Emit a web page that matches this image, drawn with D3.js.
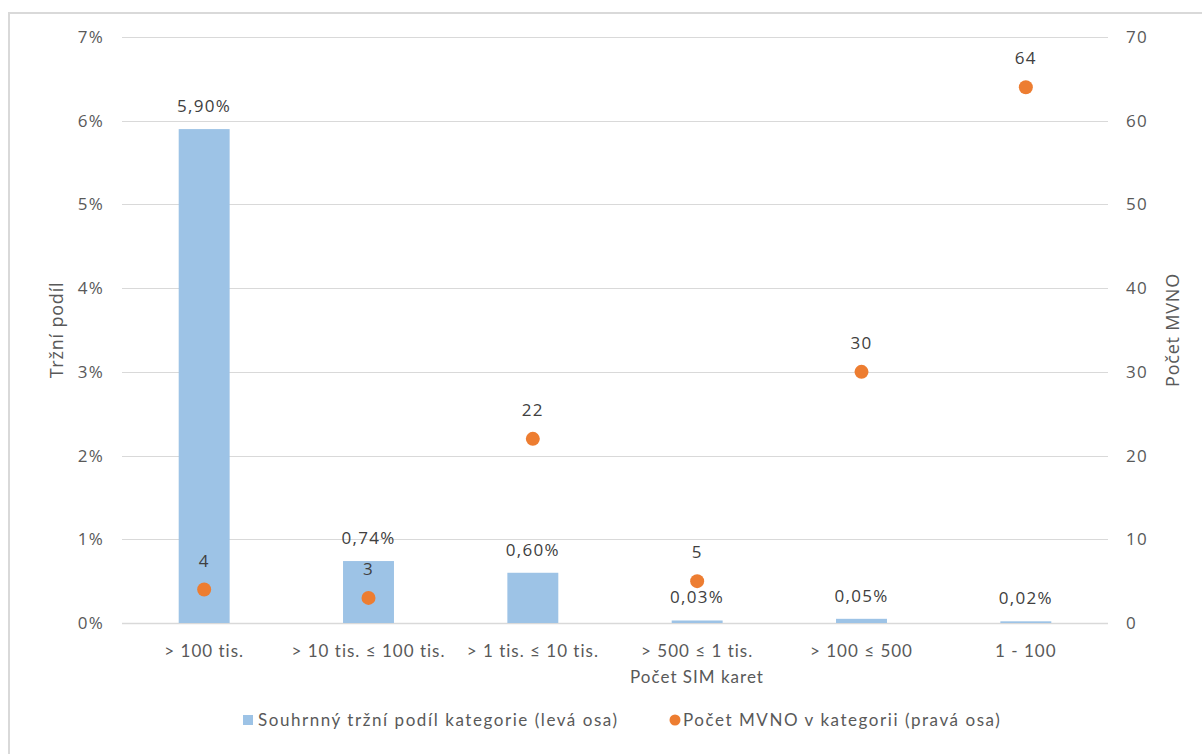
<!DOCTYPE html>
<html>
<head>
<meta charset="utf-8">
<script src="https://cdn.jsdelivr.net/npm/d3@7"></script>
<style>
  html, body { margin: 0; padding: 0; background: #fff; }
  svg { display: block; }
  .tick-lbl { font-family: "Open Sans", sans-serif; font-size: 17px; fill: #595959; letter-spacing: 1.3px; }
  .data-lbl { font-family: "Open Sans", sans-serif; font-size: 17px; fill: #404040; letter-spacing: 1.3px; }
  .cat-lbl { font-family: Lato, sans-serif; font-size: 17px; fill: #595959; letter-spacing: 1px; }
  .axis-title { font-family: "Open Sans", sans-serif; font-size: 18px; fill: #595959; letter-spacing: 0.8px; }
  .legend-lbl { font-family: Lato, sans-serif; font-size: 17px; fill: #595959; letter-spacing: 1.55px; }
</style>
</head>
<body>
<svg id="chart" width="1202" height="754"></svg>
<script>
// Categories: number of SIM cards per MVNO
const categories = ["> 100 tis.", "> 10 tis. \u2264 100 tis.", "> 1 tis. \u2264 10 tis.", "> 500 \u2264 1 tis.", "> 100 \u2264 500", "1 - 100"];
// Aggregate market share of each category (%), left axis
const marketShare = [5.90, 0.74, 0.60, 0.03, 0.05, 0.02];
// Number of MVNOs in each category, right axis
const mvnoCount = [4, 3, 22, 5, 30, 64];
// Axis ticks
const leftTicks = [0, 1, 2, 3, 4, 5, 6, 7];
const rightTicks = [0, 10, 20, 30, 40, 50, 60, 70];
// Legend labels
const legendLabels = ["Souhrnn\u00fd tr\u017en\u00ed pod\u00edl kategorie (lev\u00e1 osa)", "Po\u010det MVNO v kategorii (prav\u00e1 osa)"];

const BLUE = "#9dc3e6", ORANGE = "#ed7d31", GRID = "#d9d9d9";

const svg = d3.select("#chart");

// Outer chart frame
svg.append("rect")
  .attr("x", 9).attr("y", 13)
  .attr("width", 1220).attr("height", 760)
  .attr("fill", "none").attr("stroke", GRID).attr("stroke-width", 2);

const plot = { left: 122, right: 1108, top: 37, bottom: 623 };

const x = d3.scaleBand().domain(categories).range([plot.left, plot.right]).paddingInner(0.69).paddingOuter(0.345);
const yL = d3.scaleLinear().domain([0, 7]).range([plot.bottom, plot.top]);
const yR = d3.scaleLinear().domain([0, 70]).range([plot.bottom, plot.top]);

// Horizontal gridlines
svg.append("g").selectAll("line").data(leftTicks).join("line")
  .attr("x1", plot.left).attr("x2", plot.right)
  .attr("y1", d => Math.round(yL(d)) + 0.5).attr("y2", d => Math.round(yL(d)) + 0.5)
  .attr("stroke", GRID).attr("stroke-width", d => d === 0 ? 1.5 : 1.2);

// Left axis labels
svg.append("g").selectAll("text").data(leftTicks).join("text")
  .attr("class", "tick-lbl")
  .attr("x", 104).attr("y", d => yL(d)).attr("dy", "0.35em")
  .attr("text-anchor", "end").text(d => d + "%");

// Right axis labels
svg.append("g").selectAll("text").data(rightTicks).join("text")
  .attr("class", "tick-lbl")
  .attr("x", 1126).attr("y", d => yR(d)).attr("dy", "0.35em")
  .attr("text-anchor", "start").text(d => d);

// Axis titles
svg.append("text").attr("class", "axis-title")
  .attr("transform", "translate(63,330) rotate(-90)")
  .attr("text-anchor", "middle").text("Tr\u017en\u00ed pod\u00edl");
svg.append("text").attr("class", "axis-title")
  .attr("transform", "translate(1179,330) rotate(-90)")
  .attr("text-anchor", "middle").text("Po\u010det MVNO");

// Bars (left axis)
svg.append("g").selectAll("rect").data(marketShare).join("rect")
  .attr("x", (d, i) => x(categories[i]))
  .attr("width", x.bandwidth())
  .attr("y", d => yL(d))
  .attr("height", d => yL(0) - yL(d))
  .attr("fill", BLUE);

// Bar value labels
const fmtPct = v => v.toFixed(2).replace(".", ",") + "%";
svg.append("g").selectAll("text").data(marketShare).join("text")
  .attr("class", "data-lbl")
  .attr("x", (d, i) => x(categories[i]) + x.bandwidth() / 2)
  .attr("y", d => yL(d) - 17)
  .attr("text-anchor", "middle").text(fmtPct);

// Points (right axis)
svg.append("g").selectAll("circle").data(mvnoCount).join("circle")
  .attr("cx", (d, i) => x(categories[i]) + x.bandwidth() / 2)
  .attr("cy", d => yR(d))
  .attr("r", 7)
  .attr("fill", ORANGE);

// Point value labels
svg.append("g").selectAll("text").data(mvnoCount).join("text")
  .attr("class", "data-lbl")
  .attr("x", (d, i) => x(categories[i]) + x.bandwidth() / 2)
  .attr("y", d => yR(d) - 23)
  .attr("text-anchor", "middle").text(d => d);

// Category labels
svg.append("g").selectAll("text").data(categories).join("text")
  .attr("class", "cat-lbl")
  .attr("x", d => x(d) + x.bandwidth() / 2)
  .attr("y", 657)
  .attr("text-anchor", "middle").text(d => d);

// X axis title
svg.append("text").attr("class", "cat-lbl")
  .attr("x", 697).attr("y", 683)
  .attr("text-anchor", "middle").text("Po\u010det SIM karet");

// Legend
const leg = svg.append("g");
leg.append("rect").attr("x", 243).attr("y", 715).attr("width", 10).attr("height", 10).attr("fill", BLUE);
leg.append("text").attr("class", "legend-lbl").attr("x", 258).attr("y", 726).text(legendLabels[0]);
leg.append("circle").attr("cx", 675).attr("cy", 720).attr("r", 5.5).attr("fill", ORANGE);
leg.append("text").attr("class", "legend-lbl").attr("x", 683).attr("y", 726).text(legendLabels[1]);
</script>
</body>
</html>
